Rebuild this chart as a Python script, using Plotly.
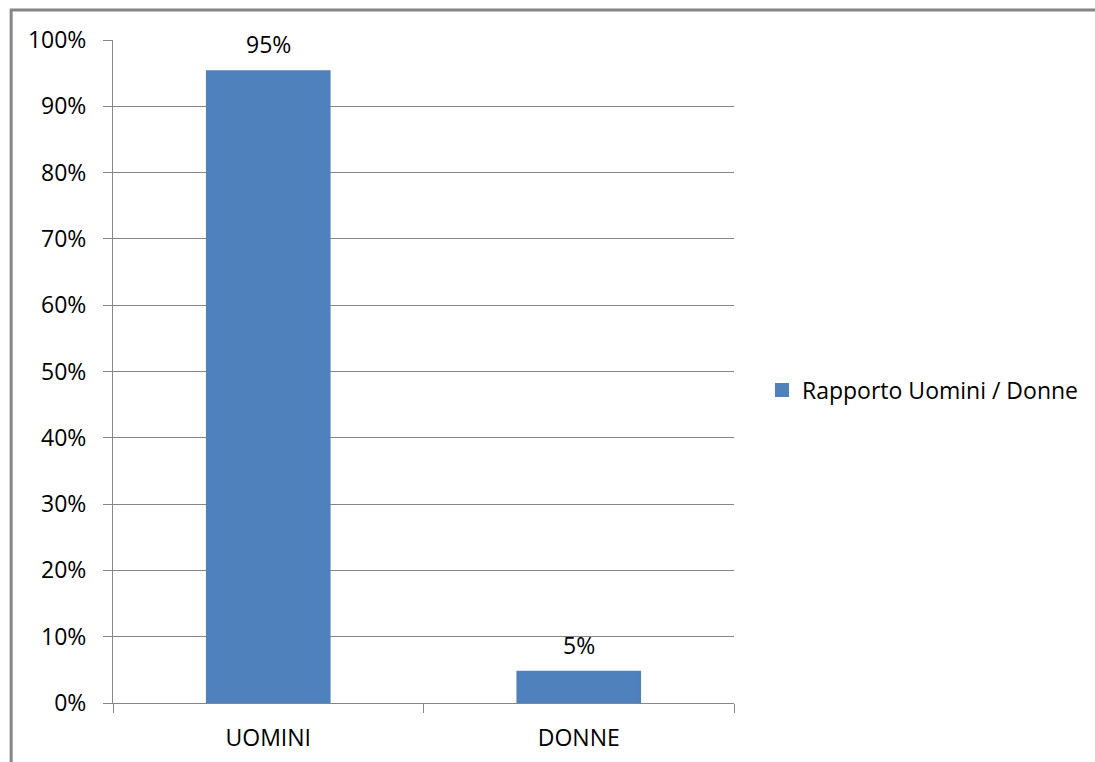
import plotly.graph_objects as go

# Share of men and women
categories = ["UOMINI", "DONNE"]
values = [0.953, 0.047]
series_name = "Rapporto Uomini / Donne"

W, H = 1095, 762
L, R, T, B = 113, 735, 40, 703  # plot area in pixels
pw, ph = R - L, B - T

def px_x(x):
    return (x - L) / pw

def px_y(y):
    return (B - y) / ph

FONT = "Open Sans"
FS = 23
GRAY = "#868686"
BAR = "#4f81bd"

fig = go.Figure()
fig.add_trace(go.Bar(
    x=categories,
    y=values,
    name=series_name,
    marker=dict(color=BAR, line=dict(color=BAR, width=2)),
    showlegend=True,
))

for c, v in zip(categories, values):
    fig.add_annotation(
        x=c, y=v, text=f"{v:.0%}", showarrow=False,
        yanchor="bottom", yshift=9,
        font=dict(family=FONT, size=FS, color="#000000"),
    )

# outer chart frame
fig.add_shape(
    type="rect", xref="paper", yref="paper",
    x0=px_x(11), x1=px_x(W + 20), y0=px_y(H + 20), y1=px_y(10),
    line=dict(color=GRAY, width=3), fillcolor="rgba(0,0,0,0)",
)

fig.update_layout(
    width=W, height=H,
    margin=dict(l=L, r=W - R, t=T, b=H - B, pad=0),
    paper_bgcolor="white", plot_bgcolor="white",
    bargap=0.605,
    font=dict(family=FONT, size=FS, color="#000000"),
    showlegend=True,
    legend=dict(
        x=px_x(762), y=px_y(390), xanchor="left", yanchor="middle",
        font=dict(family=FONT, size=FS, color="#000000"),
        bgcolor="rgba(0,0,0,0)", itemwidth=30,
    ),
    xaxis=dict(
        type="category", tickson="boundaries", automargin=False,
        showgrid=False, showline=True, linecolor=GRAY, linewidth=1,
        ticks="outside", ticklen=9, tickcolor=GRAY, tickwidth=1,
        ticklabelstandoff=14, zeroline=False,
    ),
    yaxis=dict(
        range=[0, 1], dtick=0.1, tickformat=".0%", automargin=False,
        showgrid=True, gridcolor=GRAY, gridwidth=1,
        showline=True, linecolor=GRAY, linewidth=1,
        ticks="outside", ticklen=9, tickcolor=GRAY, tickwidth=1,
        ticklabelstandoff=12, zeroline=False,
    ),
)

fig.write_html("out.html")
